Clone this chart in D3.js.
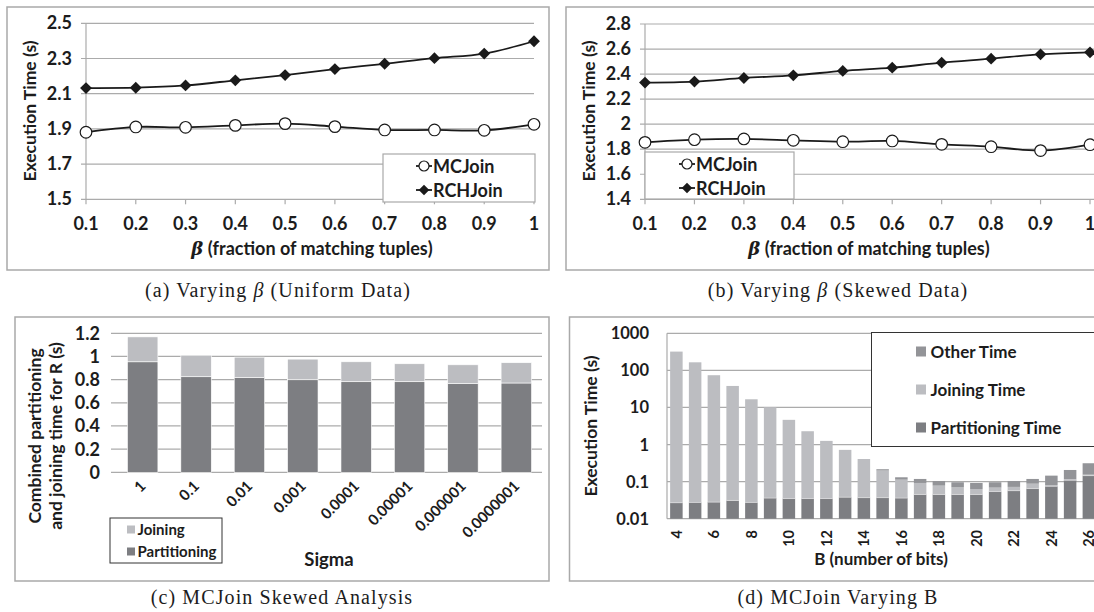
<!DOCTYPE html>
<html>
<head>
<meta charset="utf-8">
<script src="https://cdn.jsdelivr.net/npm/d3@7"></script>
<style>
body { margin: 0; background: #fff; }
svg { display: block; }
text { font-family: Lato, "Open Sans", sans-serif; font-weight: bold; fill: #1c1c1c; }
.cap { font-family: "Liberation Serif", "DejaVu Serif", serif; font-weight: normal; letter-spacing: 1.1px; }
</style>
</head>
<body>
<script>
// (a)/(b) beta sweep
var betas = ["0.1", "0.2", "0.3", "0.4", "0.5", "0.6", "0.7", "0.8", "0.9", "1"];
var uniformMC = [1.881, 1.911, 1.909, 1.920, 1.930, 1.913, 1.894, 1.894, 1.892, 1.926];
var uniformRCH = [2.132, 2.134, 2.147, 2.176, 2.206, 2.240, 2.270, 2.302, 2.328, 2.398];
var uniformTicks = [1.5, 1.7, 1.9, 2.1, 2.3, 2.5];
var skewedMC = [1.855, 1.876, 1.882, 1.871, 1.860, 1.866, 1.839, 1.820, 1.789, 1.836];
var skewedRCH = [2.332, 2.340, 2.369, 2.390, 2.425, 2.451, 2.491, 2.523, 2.558, 2.574];
var skewedTicks = [1.4, 1.6, 1.8, 2, 2.2, 2.4, 2.6, 2.8];

// (c) sigma
var sigmas = ["1", "0.1", "0.01", "0.001", "0.0001", "0.00001", "0.000001", "0.0000001"];
var sigmaPartitioning = [0.954, 0.825, 0.817, 0.799, 0.782, 0.782, 0.765, 0.771];
var sigmaJoining = [0.215, 0.186, 0.177, 0.178, 0.172, 0.155, 0.163, 0.175];
var sigmaTicks = [0, 0.2, 0.4, 0.6, 0.8, 1, 1.2];

// (d) number of bits
var bits = [4, 5, 6, 7, 8, 9, 10, 11, 12, 13, 14, 15, 16, 17, 18, 19, 20, 21, 22, 23, 24, 25, 26];
var bitsPartitioning = [0.027, 0.0275, 0.028, 0.031, 0.0275, 0.036, 0.035, 0.035, 0.035, 0.038, 0.037, 0.037,
    0.036, 0.045, 0.045, 0.045, 0.045, 0.054, 0.057, 0.065, 0.075, 0.109, 0.145];
var bitsJoining = [321, 165, 74, 38, 16.6, 10.1, 4.6, 2.25, 1.22, 0.68, 0.37, 0.162,
    0.077, 0.047, 0.033, 0.025, 0.018, 0.015, 0.015, 0.023, 0.006, 0.007, 0.009];
var bitsOther = [0, 0, 0, 0, 0, 0, 0, 0, 0, 0, 0, 0.017,
    0.018, 0.026, 0.026, 0.026, 0.029, 0.027, 0.032, 0.030, 0.064, 0.090, 0.159];
var bitsTicks = [0.01, 0.1, 1, 10, 100, 1000];

var colPart = "#7d7e82", colJoin = "#bcbdc1", colOther = "#939498";
var gridCol = "#ababab", frameCol = "#a9a9a9";

var svg = d3.select("body").append("svg")
    .attr("width", 1094)
    .attr("height", 612);

function frame(x, y, w, h) {
    svg.append("rect")
        .attr("x", x).attr("y", y).attr("width", w).attr("height", h)
        .attr("fill", "none").attr("stroke", frameCol).attr("stroke-width", 1.5);
}

function caption(x, y, parts) {
    var t = svg.append("text").attr("class", "cap")
        .attr("x", x).attr("y", y)
        .attr("text-anchor", "middle")
        .style("font-size", "20px");
    parts.forEach(p => {
        t.append("tspan").style("font-style", p.it ? "italic" : "normal").text(p.s);
    });
}

function yTitle(x, y, str) {
    svg.append("text")
        .attr("transform", `translate(${x},${y}) rotate(-90)`)
        .attr("text-anchor", "middle")
        .style("font-size", "17.5px")
        .text(str);
}

function betaTitle(x, y) {
    var t = svg.append("text")
        .attr("x", x).attr("y", y)
        .attr("text-anchor", "middle")
        .style("font-size", "18px");
    t.append("tspan").style("font-style", "italic").style("font-family", "'DejaVu Serif', serif").text("β");
    t.append("tspan").text(" (fraction of matching tuples)");
}

function linePanel(cfg) {
    var g = svg.append("g");
    var x = d3.scalePoint().domain(betas).range([cfg.x0, cfg.x1]);
    var y = d3.scaleLinear().domain(cfg.domain).range([cfg.yb, cfg.yt]);

    g.selectAll(".grid").data(cfg.ticks).enter().append("line")
        .attr("x1", cfg.x0 - 5).attr("x2", cfg.gx1)
        .attr("y1", d => y(d)).attr("y2", d => y(d))
        .attr("stroke", gridCol).attr("stroke-width", 1.2);
    g.append("line")
        .attr("x1", cfg.x0).attr("x2", cfg.x0)
        .attr("y1", cfg.yt).attr("y2", cfg.yb)
        .attr("stroke", gridCol).attr("stroke-width", 1.2);
    g.selectAll(".xt").data(betas).enter().append("line")
        .attr("x1", d => x(d)).attr("x2", d => x(d))
        .attr("y1", cfg.yb).attr("y2", cfg.yb + 5)
        .attr("stroke", gridCol).attr("stroke-width", 1.2);

    g.selectAll(".yl").data(cfg.ticks).enter().append("text")
        .attr("x", cfg.x0 - 14).attr("y", d => y(d) + 6)
        .attr("text-anchor", "end")
        .style("font-size", "18px")
        .text(d => String(d));
    g.selectAll(".xl").data(betas).enter().append("text")
        .attr("x", d => x(d)).attr("y", cfg.yb + 31)
        .attr("text-anchor", "middle")
        .style("font-size", "18px")
        .text(d => d);

    var line = d3.line()
        .x((d, i) => x(betas[i]))
        .y(d => y(d))
        .curve(d3.curveCatmullRom);

    [cfg.mc, cfg.rch].forEach(vals => {
        g.append("path")
            .attr("d", line(vals))
            .attr("fill", "none").attr("stroke", "#1a1a1a").attr("stroke-width", 1.8);
    });
    g.selectAll(".mc").data(cfg.mc).enter().append("circle")
        .attr("cx", (d, i) => x(betas[i])).attr("cy", d => y(d))
        .attr("r", 5.8).attr("fill", "#fff").attr("stroke", "#1a1a1a").attr("stroke-width", 1.2);
    var diamond = d3.symbol(d3.symbolSquare, 70);
    g.selectAll(".rch").data(cfg.rch).enter().append("path")
        .attr("d", diamond)
        .attr("transform", (d, i) => `translate(${x(betas[i])},${y(d)}) rotate(45)`)
        .attr("fill", "#1a1a1a");

    // legend
    var L = cfg.legend;
    g.append("rect")
        .attr("x", L.x).attr("y", L.y).attr("width", L.w).attr("height", L.h)
        .attr("fill", "#fff").attr("stroke", frameCol).attr("stroke-width", 1.2);
    [{name: "MCJoin", y: L.y + 12}, {name: "RCHJoin", y: L.y + 36}].forEach((e, i) => {
        g.append("line")
            .attr("x1", L.mx).attr("x2", L.mx + 16)
            .attr("y1", e.y).attr("y2", e.y)
            .attr("stroke", "#1a1a1a").attr("stroke-width", 1.8);
        if (i === 0) {
            g.append("circle").attr("cx", L.mx + 8).attr("cy", e.y).attr("r", 5)
                .attr("fill", "#fff").attr("stroke", "#1a1a1a").attr("stroke-width", 1.2);
        } else {
            g.append("path").attr("d", d3.symbol(d3.symbolSquare, 56))
                .attr("transform", `translate(${L.mx + 8},${e.y}) rotate(45)`)
                .attr("fill", "#1a1a1a");
        }
        g.append("text")
            .attr("x", L.mx + 17).attr("y", e.y + 6.5)
            .style("font-size", "18px")
            .text(e.name);
    });
}

// ---- panel (a)
frame(7, 7, 542, 263);
linePanel({
    x0: 86, x1: 534, gx1: 534, yt: 23.3, yb: 199.3,
    domain: [1.5, 2.5], ticks: uniformTicks,
    mc: uniformMC, rch: uniformRCH,
    legend: {x: 383, y: 154, w: 152, h: 48, mx: 416}
});
yTitle(36, 111, "Execution Time (s)");
betaTitle(312, 255);
caption(278, 297, [{s: "(a) Varying "}, {s: "β", it: true}, {s: " (Uniform Data)"}]);

// ---- panel (b)
frame(566, 7, 560, 263);
linePanel({
    x0: 645, x1: 1090, gx1: 1100, yt: 24, yb: 199.3,
    domain: [1.4, 2.8], ticks: skewedTicks,
    mc: skewedMC, rch: skewedRCH,
    legend: {x: 645, y: 152, w: 149, h: 47, mx: 679}
});
yTitle(595, 111, "Execution Time (s)");
betaTitle(869, 255);
caption(838, 297, [{s: "(b) Varying "}, {s: "β", it: true}, {s: " (Skewed Data)"}]);

// ---- panel (c)
frame(15, 317, 534, 264);
(function() {
    var g = svg.append("g");
    var x = d3.scaleBand().domain(sigmas).range([116, 543]).paddingInner(0.43).paddingOuter(0.215);
    var y = d3.scaleLinear().domain([0, 1.2]).range([472.3, 333.3]);

    g.selectAll(".grid").data(sigmaTicks).enter().append("line")
        .attr("x1", 111).attr("x2", 542)
        .attr("y1", d => y(d)).attr("y2", d => y(d))
        .attr("stroke", gridCol).attr("stroke-width", 1.2);
    g.selectAll(".yl").data(sigmaTicks).enter().append("text")
        .attr("x", 100).attr("y", d => y(d) + 6.5)
        .attr("text-anchor", "end")
        .style("font-size", "18px")
        .text(d => String(d));

    var stacked = sigmas.map((s, i) => ({s: s, p: sigmaPartitioning[i], j: sigmaJoining[i]}));
    g.selectAll(".bp").data(stacked).enter().append("rect")
        .attr("x", d => x(d.s)).attr("width", x.bandwidth())
        .attr("y", d => y(d.p)).attr("height", d => y(0) - y(d.p))
        .attr("fill", colPart).attr("stroke", "#fff").attr("stroke-width", 0.6);
    g.selectAll(".bj").data(stacked).enter().append("rect")
        .attr("x", d => x(d.s)).attr("width", x.bandwidth())
        .attr("y", d => y(d.p + d.j)).attr("height", d => y(d.p) - y(d.p + d.j))
        .attr("fill", colJoin).attr("stroke", "#fff").attr("stroke-width", 0.6);

    g.selectAll(".xl").data(sigmas).enter().append("text")
        .attr("transform", d => `translate(${x(d) + x.bandwidth() / 2 + 4},${487}) rotate(-45)`)
        .attr("text-anchor", "end")
        .style("font-size", "15px")
        .text(d => d);

    svg.append("text")
        .attr("x", 329).attr("y", 566)
        .attr("text-anchor", "middle")
        .style("font-size", "18.5px")
        .text("Sigma");
    svg.append("text")
        .attr("transform", "translate(41,436) rotate(-90)")
        .attr("text-anchor", "middle")
        .style("font-size", "17.5px")
        .text("Combined partitioning");
    svg.append("text")
        .attr("transform", "translate(62,436) rotate(-90)")
        .attr("text-anchor", "middle")
        .style("font-size", "17.5px")
        .text("and joining time for R (s)");

    // legend
    g.append("rect")
        .attr("x", 110).attr("y", 518).attr("width", 112).attr("height", 45)
        .attr("fill", "#fff").attr("stroke", "#333").attr("stroke-width", 1);
    [{name: "Joining", c: colJoin, y: 529.5}, {name: "Partitioning", c: colPart, y: 551.5}].forEach(e => {
        g.append("rect").attr("x", 127).attr("y", e.y - 4).attr("width", 8).attr("height", 8).attr("fill", e.c);
        g.append("text").attr("x", 137.5).attr("y", e.y + 5.5)
            .style("font-size", "15px").text(e.name);
    });
})();
caption(282, 604, [{s: "(c) MCJoin Skewed Analysis"}]);

// ---- panel (d)
frame(569.5, 317, 560, 264);
(function() {
    var g = svg.append("g");
    var x = d3.scaleBand().domain(bits).range([667, 667 + 18.75 * bits.length]).paddingInner(0.333).paddingOuter(0.167);
    var y = d3.scaleLog().domain([0.01, 1000]).range([518.7, 333.3]);

    g.selectAll(".grid").data(bitsTicks).enter().append("line")
        .attr("x1", 667).attr("x2", 1100)
        .attr("y1", d => y(d)).attr("y2", d => y(d))
        .attr("stroke", gridCol).attr("stroke-width", 1.2);
    g.append("line")
        .attr("x1", 667).attr("x2", 667).attr("y1", 333.3).attr("y2", 518.7)
        .attr("stroke", gridCol).attr("stroke-width", 1.2);
    g.selectAll(".yl").data(bitsTicks).enter().append("text")
        .attr("x", 649).attr("y", d => y(d) + 6)
        .attr("text-anchor", "end")
        .style("font-size", "16.5px")
        .text(d => String(d));

    var rows = bits.map((b, i) => {
        var p = bitsPartitioning[i], j = p + bitsJoining[i], o = j + bitsOther[i];
        return {b: b, p: p, j: j, o: o};
    });
    var base = 0.01;
    g.selectAll(".bp").data(rows).enter().append("rect")
        .attr("x", d => x(d.b)).attr("width", x.bandwidth())
        .attr("y", d => y(d.p)).attr("height", d => y(base) - y(d.p))
        .attr("fill", colPart);
    g.selectAll(".bj").data(rows).enter().append("rect")
        .attr("x", d => x(d.b)).attr("width", x.bandwidth())
        .attr("y", d => y(d.j)).attr("height", d => y(d.p) - y(d.j))
        .attr("fill", colJoin);
    g.selectAll(".bo").data(rows.filter(d => d.o > d.j)).enter().append("rect")
        .attr("x", d => x(d.b)).attr("width", x.bandwidth())
        .attr("y", d => y(d.o)).attr("height", d => y(d.j) - y(d.o))
        .attr("fill", colOther);
    g.selectAll(".sep").data(rows).enter().append("line")
        .attr("x1", d => x(d.b)).attr("x2", d => x(d.b) + x.bandwidth())
        .attr("y1", d => y(d.p)).attr("y2", d => y(d.p))
        .attr("stroke", "#e4e4e6").attr("stroke-width", 0.6);

    g.selectAll(".xl").data(bits.filter(b => b % 2 === 0)).enter().append("text")
        .attr("transform", d => `translate(${x(d) + x.bandwidth() / 2},530) rotate(-90)`)
        .attr("dy", "0.36em")
        .attr("text-anchor", "end")
        .style("font-size", "14.5px")
        .text(d => d);

    svg.append("text")
        .attr("x", 881).attr("y", 565)
        .attr("text-anchor", "middle")
        .style("font-size", "17px")
        .text("B (number of bits)");
    yTitle(597, 426, "Execution Time (s)");

    // legend
    g.append("rect")
        .attr("x", 871.5).attr("y", 332.5).attr("width", 240).attr("height", 114)
        .attr("fill", "#fff").attr("stroke", "#333").attr("stroke-width", 1);
    [{name: "Other Time", c: colOther, y: 351.5},
     {name: "Joining Time", c: colJoin, y: 389.5},
     {name: "Partitioning Time", c: colPart, y: 427.5}].forEach(e => {
        g.append("rect").attr("x", 916).attr("y", e.y - 5).attr("width", 10).attr("height", 10).attr("fill", e.c);
        g.append("text").attr("x", 930.5).attr("y", e.y + 6.5)
            .style("font-size", "17px").text(e.name);
    });
})();
caption(838, 604, [{s: "(d) MCJoin Varying B"}]);
</script>
</body>
</html>
